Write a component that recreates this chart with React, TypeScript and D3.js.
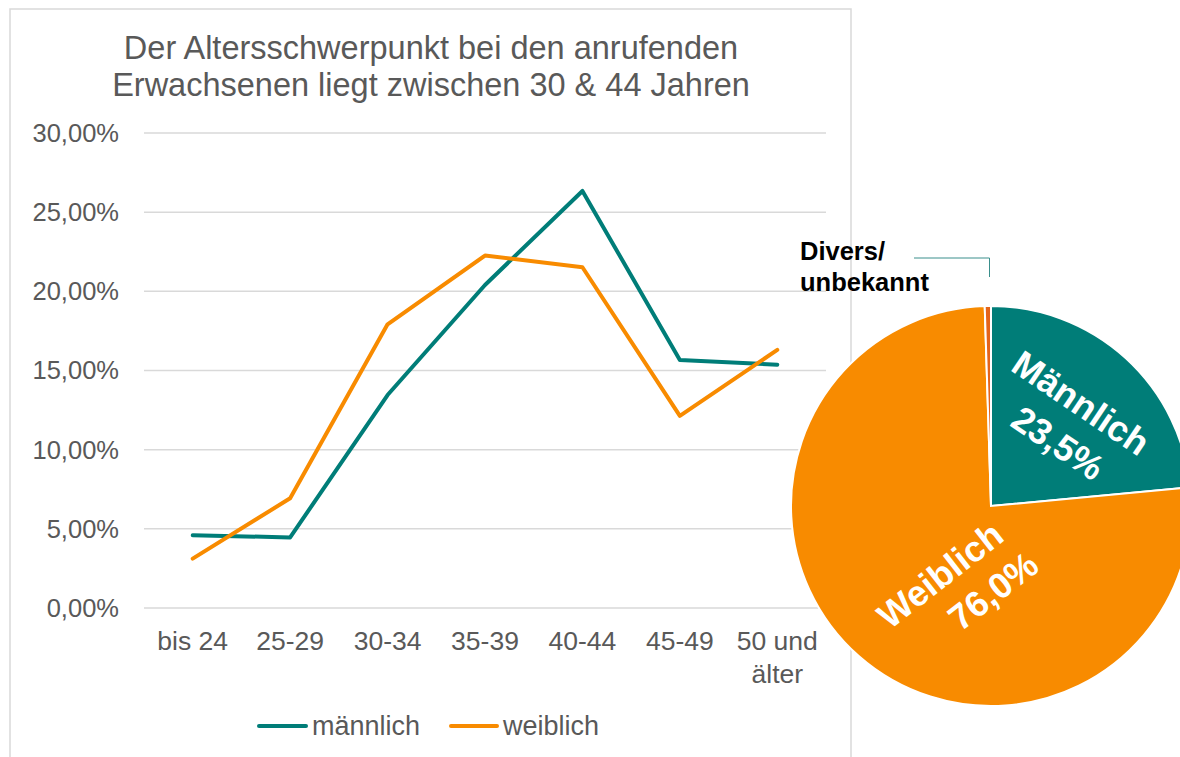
import React from "react";
import * as d3 from "d3";

const categories: string[][] = [["bis 24"], ["25-29"], ["30-34"], ["35-39"], ["40-44"], ["45-49"], ["50 und", "älter"]];
const maennlich = [4.59, 4.46, 13.45, 20.4, 26.34, 15.66, 15.37];
const weiblich = [3.12, 6.93, 17.92, 22.26, 21.52, 12.13, 16.3];
const yTicks = [0, 5, 10, 15, 20, 25, 30];
const titleLines = ["Der Altersschwerpunkt bei den anrufenden", "Erwachsenen liegt zwischen 30 & 44 Jahren"];
const seriesNames = ["männlich", "weiblich"];

const pieLabels = ["Männlich", "Weiblich", "Divers/ unbekannt"];
const pieValues = [23.5, 76.0, 0.5];

const TEAL = "#007d78";
const ORANGE = "#f88b00";
const DIVERS = "#e4641a";
const GRAY = "#595959";
const GRID = "#d9d9d9";
const FONT = "'Liberation Sans', Arial, sans-serif";

export default function App() {
  const W = 1180, H = 757;
  const x = d3.scaleBand<number>().domain(d3.range(categories.length)).range([144, 826]);
  const y = d3.scaleLinear().domain([0, 30]).range([608, 133]);
  const cx = (i: number) => (x(i) as number) + x.bandwidth() / 2;
  const line = d3.line<number>().x((_, i) => cx(i)).y((d) => y(d));
  const fmt = (v: number) => v.toFixed(2).replace(".", ",") + "%";

  const pcx = 991, pcy = 506, R = 200;
  const pie = d3.pie<number>().sort(null).value((d) => d)(pieValues);
  const arc = d3.arc<d3.PieArcDatum<number>>().innerRadius(0).outerRadius(R);
  const pct = (v: number) => v.toFixed(1).replace(".", ",") + "%";

  return (
    <svg width={W} height={H} style={{ position: "absolute", left: 0, top: 0, background: "#fff" }} fontFamily={FONT}>
      <rect x={10} y={9} width={841} height={760} fill="#fff" stroke={GRID} strokeWidth={1.5} />
      {titleLines.map((t, i) => (
        <text key={i} x={431} y={59 + i * 37} textAnchor="middle" fontSize={32.5} fill={GRAY}>{t}</text>
      ))}
      {yTicks.map((t) => (
        <g key={t}>
          <line x1={144} x2={826} y1={y(t)} y2={y(t)} stroke={GRID} strokeWidth={1.5} />
          <text x={119} y={y(t)} dy="0.35em" textAnchor="end" fontSize={25.5} fill={GRAY}>{fmt(t)}</text>
        </g>
      ))}
      {categories.map((c, i) => (
        <text key={i} x={cx(i)} y={650} textAnchor="middle" fontSize={26.5} fill={GRAY}>
          {c.map((l, j) => (
            <tspan key={j} x={cx(i)} dy={j === 0 ? 0 : 33}>{l}</tspan>
          ))}
        </text>
      ))}
      <path d={line(maennlich) || ""} fill="none" stroke={TEAL} strokeWidth={4} strokeLinecap="round" strokeLinejoin="round" />
      <path d={line(weiblich) || ""} fill="none" stroke={ORANGE} strokeWidth={4} strokeLinecap="round" strokeLinejoin="round" />
      <g>
        <line x1={259} x2={306} y1={726} y2={726} stroke={TEAL} strokeWidth={4} strokeLinecap="round" />
        <text x={312} y={726} dy="0.35em" fontSize={27} fill={GRAY}>{seriesNames[0]}</text>
        <line x1={451} x2={497} y1={726} y2={726} stroke={ORANGE} strokeWidth={4} strokeLinecap="round" />
        <text x={503} y={726} dy="0.35em" fontSize={27} fill={GRAY}>{seriesNames[1]}</text>
      </g>
      <g transform={`translate(${pcx},${pcy})`}>
        {pie.map((p, i) => (
          <path key={i} d={arc(p) || ""} fill={[TEAL, ORANGE, DIVERS][i]} stroke="#fff" strokeWidth={2} />
        ))}
        <g transform="translate(90,-103) rotate(34)">
          <text textAnchor="middle" dy="0.35em" fontSize={36} fontWeight="bold" fill="#fff">{pieLabels[0]}</text>
        </g>
        <g transform="translate(67,-63) rotate(34)">
          <text textAnchor="middle" dy="0.35em" fontSize={36} fontWeight="bold" fill="#fff">{pct(pieValues[0])}</text>
        </g>
        <g transform="translate(-51,69) rotate(-38)">
          <text textAnchor="middle" dy="0.35em" fontSize={36} fontWeight="bold" fill="#fff">{pieLabels[1]}</text>
        </g>
        <g transform="translate(2,85) rotate(-38)">
          <text textAnchor="middle" dy="0.35em" fontSize={36} fontWeight="bold" fill="#fff">{pct(pieValues[1])}</text>
        </g>
      </g>
      <polyline points={`914,258 989.5,258 989.5,277`} fill="none" stroke="#3a8f8c" strokeWidth={1} />
      <text x={800} y={260} fontSize={25.5} fontWeight="bold" fill="#000">
        <tspan x={800}>Divers/</tspan>
        <tspan x={800} dy={31}>unbekannt</tspan>
      </text>
    </svg>
  );
}
